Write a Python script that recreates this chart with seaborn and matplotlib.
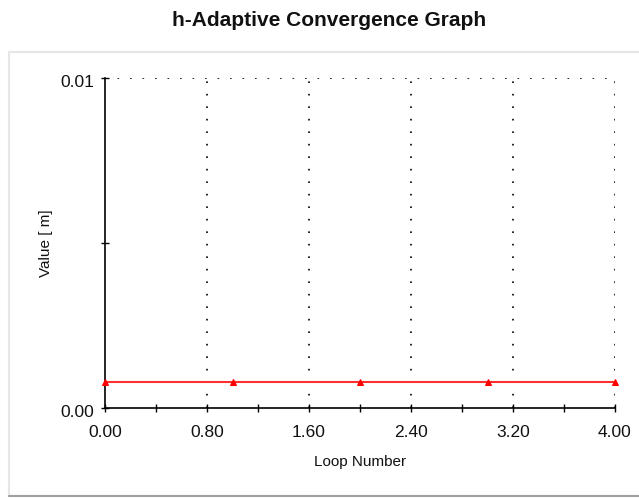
import matplotlib
matplotlib.use("Agg")
import matplotlib.pyplot as plt
import matplotlib.transforms as mtransforms
from matplotlib.patches import Rectangle
from matplotlib.ticker import MultipleLocator, FixedLocator
import seaborn as sns
import pandas as pd

loops = [0, 1, 2, 3, 4]
values = [0.0008, 0.0008, 0.0008, 0.0008, 0.0008]
x_ticks = [0.00, 0.80, 1.60, 2.40, 3.20, 4.00]
y_ticks = [0.00, 0.005, 0.01]
y_tick_labels = ["0.00", "", "0.01"]

sns.set_theme(style="white")
plt.rcParams["font.family"] = ["Liberation Sans", "DejaVu Sans"]

df = pd.DataFrame({"Loop Number": loops, "Value": values})

fig = plt.figure(figsize=(6.39, 4.98), dpi=100)
fig.patch.set_facecolor("white")

# framed panel behind the plot
W, H = 639, 498
panel = Rectangle((9 / W, 2 / H), 640 / W, (H - 52 - 2) / H, transform=fig.transFigure,
                  facecolor="white", edgecolor="#e6e6e6", linewidth=1.5, zorder=-5)
fig.patches.append(panel)
fig.add_artist(plt.Line2D([9 / W, 1], [2 / H, 2 / H], transform=fig.transFigure,
                          color="#a0a0a0", linewidth=1.5, zorder=-4))

ax = fig.add_axes([105 / W, 1 - 408 / H, 510 / W, 330 / H])
ax.set_facecolor("none")
ax.set_zorder(3)

sns.lineplot(data=df, x="Loop Number", y="Value", ax=ax, color="#ff3030",
             marker="^", markersize=5, markeredgecolor="#ff0000",
             markerfacecolor="#ff0000", linewidth=1.5, clip_on=False, zorder=5)

ax.set_xlim(0, 4)
ax.set_ylim(0, 0.01)
ax.xaxis.set_major_locator(FixedLocator(x_ticks))
ax.xaxis.set_minor_locator(MultipleLocator(0.4))
ax.set_xticklabels([f"{t:.2f}" for t in x_ticks])
ax.yaxis.set_major_locator(FixedLocator(y_ticks))
ax.set_yticklabels(y_tick_labels)

ax.tick_params(axis="both", which="major", direction="inout", length=6, width=1,
               color="black", labelsize=12.5, labelcolor="#111111", left=True, bottom=True)
ax.tick_params(axis="x", which="major", pad=9)
ax.tick_params(axis="y", which="major", pad=5)
ax.tick_params(axis="x", which="minor", direction="inout", length=6, width=1,
               color="black", bottom=True)

# y tick labels sit a little below their ticks
shift = mtransforms.ScaledTranslation(0, -3 / 100, fig.dpi_scale_trans)
for lbl in ax.get_yticklabels():
    lbl.set_verticalalignment("center_baseline")
    lbl.set_transform(lbl.get_transform() + shift)

ax.grid(False)
for xv in x_ticks[1:]:
    ax.axvline(xv, color="black", linestyle=(0, (1, 6.5)), linewidth=1.2, zorder=1)
ax.axhline(0.01, color="black", linestyle=(0, (1, 6.5)), linewidth=1.2, zorder=1)

for side in ["top", "right"]:
    ax.spines[side].set_visible(False)
for side in ["left", "bottom"]:
    ax.spines[side].set_color("black")
    ax.spines[side].set_linewidth(1.2)

ax.set_xlabel("Loop Number", fontsize=11, color="#111111")
ax.set_ylabel("Value [ m]", fontsize=11, color="#111111")
ax.xaxis.set_label_coords(0.5, (408 - 455) / 330)
ax.yaxis.set_label_coords((53 - 105) / 510, 0.5)

fig.text(329 / W, 1 - 20 / H, "h-Adaptive Convergence Graph", ha="center", va="center",
         fontsize=15, fontweight="bold", color="#111111")

fig.savefig("out.png", dpi=100, facecolor="white")
